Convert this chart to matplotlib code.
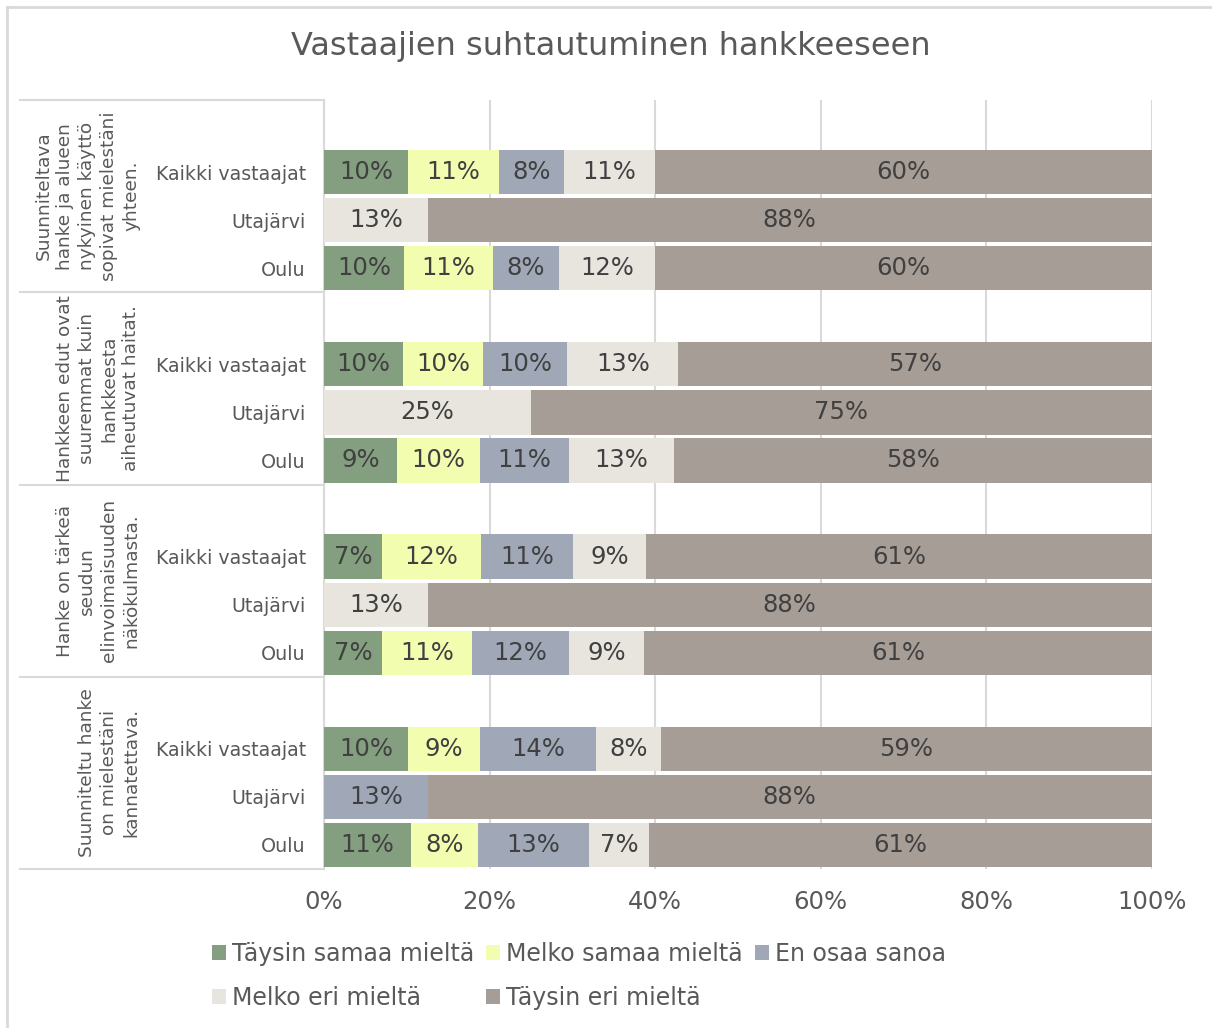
import matplotlib
matplotlib.use('Agg')
import matplotlib.pyplot as plt
from matplotlib.patches import Patch
from matplotlib.lines import Line2D
import numpy as np

# ── Data ────────────────────────────────────────────────────────────────────
groups = [
    "Suunniteltava\nhanke ja alueen\nnykyinen käyttö\nsopivat mielestäni\nyhteen.",
    "Hankkeen edut ovat\nsuuremmat kuin\nhankkeesta\naiheutuvat haitat.",
    "Hanke on tärkeä\nseudun\nelinvoimaisuuden\nnäkökulmasta.",
    "Suunniteltu hanke\non mielestäni\nkannatettava.",
]
respondents = ["Kaikki vastaajat", "Utajärvi", "Oulu"]
answers = ["Täysin samaa mieltä", "Melko samaa mieltä", "En osaa sanoa",
           "Melko eri mieltä", "Täysin eri mieltä"]

# rows: group x respondent, columns follow `answers`
taysin_samaa = [10.1, 0.0, 9.7,   9.6, 0.0, 8.8,   7.0, 0.0, 7.0,   10.1, 0.0, 10.5]
melko_samaa  = [11.0, 0.0, 10.7,  9.6, 0.0, 10.0,  12.0, 0.0, 10.9,  8.7, 0.0, 8.1]
en_osaa      = [7.9, 0.0, 8.0,    10.2, 0.0, 10.8, 11.1, 0.0, 11.7,  14.1, 12.5, 13.4]
melko_eri    = [11.0, 12.5, 11.6, 13.4, 25.0, 12.7, 8.8, 12.5, 9.0,  7.8, 0.0, 7.3]
taysin_eri   = [60.0, 87.5, 60.0, 57.2, 75.0, 57.7, 61.1, 87.5, 61.4, 59.3, 87.5, 60.7]

series = [taysin_samaa, melko_samaa, en_osaa, melko_eri, taysin_eri]
colors = ["#849e80", "#f2fdb0", "#a0a8b8", "#e8e5df", "#a69d97"]

C_TEXT = "#404040"
C_LABEL = "#595959"
C_GRID = "#d9d9d9"

fig = plt.figure(figsize=(12.12, 10.28), dpi=100)
ax = fig.add_axes([324 / 1212, 1 - 869 / 1028, 828 / 1212, 769 / 1028])

# 4 slots per group, first slot empty
ypos = []
for g in range(len(groups)):
    for r in range(len(respondents)):
        ypos.append(4 * g + 1 + r)
ypos = np.array(ypos)

left = np.zeros(len(ypos))
for vals, col in zip(series, colors):
    vals = np.array(vals)
    ax.barh(ypos, vals, left=left, height=0.92, color=col, zorder=3)
    for y, l, v in zip(ypos, left, vals):
        if v > 0:
            ax.text(l + v / 2, y, f"{int(v + 0.5)}%", ha='center', va='center',
                    fontsize=17.5, color=C_TEXT, zorder=4)
    left += vals

ax.set_xlim(0, 100)
ax.set_ylim(15.5, -0.5)
ax.set_xticks(np.arange(0, 101, 20))
ax.set_xticklabels([f"{t}%" for t in range(0, 101, 20)], fontsize=17.5, color=C_LABEL)
ax.tick_params(axis='x', length=0, pad=15)
ax.set_yticks(ypos)
ax.set_yticklabels(respondents * len(groups), fontsize=13.7, color=C_LABEL)
ax.tick_params(axis='y', length=0, pad=13)
ax.grid(axis='x', color=C_GRID, lw=1.5, zorder=0)
for s in ['top', 'right', 'bottom']:
    ax.spines[s].set_visible(False)
ax.spines['left'].set_color(C_GRID)
ax.spines['left'].set_linewidth(1.5)

# group labels and separators
x0 = 20 / 1212
x1 = 324 / 1212
for g in range(len(groups) + 1):
    yb = 1 - (100 + g * 769 / 4) / 1028
    fig.add_artist(Line2D([x0, x1], [yb, yb], color=C_GRID, lw=1.5))
for g, txt in enumerate(groups):
    yc = 1 - (100 + (g + 0.5) * 769 / 4) / 1028
    fig.text(140 / 1212, yc, txt, rotation=90, ha='right', va='center',
             multialignment='center', fontsize=13.3, color=C_LABEL, linespacing=1.28)

# chart border (left and top visible)
fig.add_artist(Line2D([7 / 1212, 1], [1 - 7 / 1028, 1 - 7 / 1028], color=C_GRID, lw=2))
fig.add_artist(Line2D([7 / 1212, 7 / 1212], [0, 1 - 7 / 1028], color=C_GRID, lw=2))

fig.text(611 / 1212, 1 - 47 / 1028, "Vastaajien suhtautuminen hankkeeseen",
         ha='center', va='center', fontsize=23, color=C_LABEL)

# legend, row-wise order
order = [0, 3, 1, 4, 2]
handles = [Patch(facecolor=colors[i], edgecolor='none') for i in order]
labels = [answers[i] for i in order]
fig.legend(handles, labels, ncol=3, loc='center', bbox_to_anchor=(579 / 1212, 1 - 976 / 1028),
           frameon=False, fontsize=17, handlelength=0.6, handleheight=0.6,
           handletextpad=0.25, columnspacing=0.5, labelspacing=0.85, labelcolor=C_LABEL)

fig.savefig("out.png", dpi=100, facecolor='white')
